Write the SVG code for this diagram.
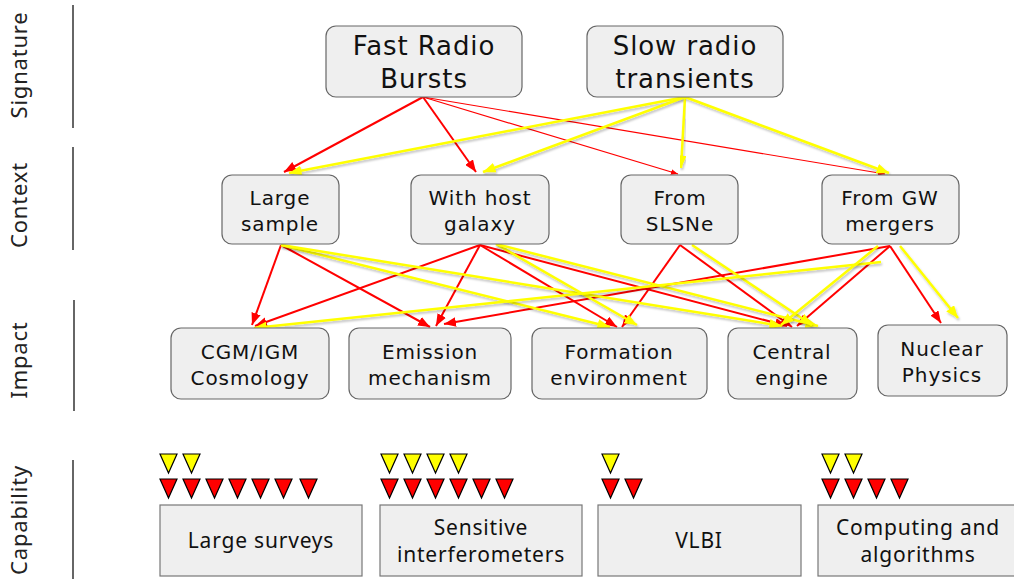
<svg xmlns="http://www.w3.org/2000/svg" xmlns:xlink="http://www.w3.org/1999/xlink" width="1014" height="579" viewBox="0 0 1014 579">
<style>
.node rect{fill:#efefef;stroke:#666;stroke-width:1.2}
.cap rect{fill:#efefef;stroke:#777;stroke-width:1.2}
.t{font-family:"DejaVu Sans","Open Sans",sans-serif;fill:#111;text-anchor:middle}
.big{font-size:26px;letter-spacing:0.9px}
.mid{font-size:20px;letter-spacing:0.9px}
.capt{font-family:"Noto Sans","Open Sans",sans-serif;font-size:21px;letter-spacing:0.8px;fill:#111;text-anchor:middle}
.lab{font-family:"Noto Sans","Open Sans",sans-serif;font-size:22px;letter-spacing:0.8px;fill:#222;text-anchor:middle}
.div{stroke:#666;stroke-width:2}
.r{stroke:#ff0000;stroke-width:2;fill:none;marker-end:url(#ar)}
.rt{stroke:#ff0000;stroke-width:1.2;fill:none;marker-end:url(#ar)}
.y{stroke:#ffff00;stroke-width:2.5;fill:none;marker-end:url(#ay);filter:url(#sh)}
.ty{fill:#ffff00;stroke:#000;stroke-width:1.2}
.tr{fill:#ff0000;stroke:#000;stroke-width:1.2}
</style>
<defs>
<marker id="ar" viewBox="0 0 10 8" refX="10" refY="4" markerWidth="6" markerHeight="4.8" orient="auto" markerUnits="strokeWidth"><path d="M0,0L10,4L0,8z" fill="#ff0000"/></marker>
<marker id="ay" viewBox="0 0 10 8" refX="10" refY="4" markerWidth="5" markerHeight="4" orient="auto" markerUnits="strokeWidth"><path d="M0,0L10,4L0,8z" fill="#ffff00"/></marker>
<filter id="sh" x="-10%" y="-10%" width="120%" height="140%"><feDropShadow dx="1" dy="2" stdDeviation="1" flood-color="#000" flood-opacity="0.25"/></filter>
<path id="tri" d="M0,0H17L8.5,19Z"/>
</defs>

<g id="axis-labels">
<text class="lab" transform="translate(27,65) rotate(-90)">Signature</text>
<line class="div" x1="73" y1="5" x2="73" y2="128"/>
<text class="lab" transform="translate(27,205) rotate(-90)">Context</text>
<line class="div" x1="73" y1="147" x2="73" y2="250"/>
<text class="lab" transform="translate(27,360) rotate(-90)">Impact</text>
<line class="div" x1="74" y1="300" x2="74" y2="411"/>
<text class="lab" transform="translate(27,520) rotate(-90)">Capability</text>
<line class="div" x1="73" y1="460" x2="73" y2="579"/>
</g>

<g id="connectors">
<!-- signature -> context -->
<line class="r" x1="423" y1="97" x2="284" y2="172"/>
<line class="r" x1="423" y1="97" x2="476" y2="172"/>
<line class="rt" x1="423" y1="97" x2="678" y2="174"/>
<line class="rt" x1="423" y1="97" x2="885" y2="174"/>
<line class="y" x1="685" y1="97" x2="289" y2="173"/>
<line class="y" x1="685" y1="97" x2="483" y2="172"/>
<line class="y" x1="685" y1="97" x2="681" y2="168"/>
<line class="y" x1="685" y1="97" x2="889" y2="173"/>
<!-- context -> impact : red -->
<line class="r" x1="281" y1="245" x2="252" y2="325"/>
<line class="r" x1="281" y1="245" x2="430" y2="327"/>
<line class="r" x1="480" y1="245" x2="255" y2="326"/>
<line class="r" x1="480" y1="245" x2="436" y2="326"/>
<line class="r" x1="480" y1="245" x2="617" y2="327"/>
<line class="r" x1="480" y1="245" x2="787" y2="326"/>
<line class="r" x1="680" y1="245" x2="622" y2="327"/>
<line class="r" x1="680" y1="245" x2="792" y2="327"/>
<line class="r" x1="890" y1="246" x2="444" y2="324"/>
<line class="r" x1="890" y1="246" x2="797" y2="326"/>
<line class="r" x1="890" y1="246" x2="941" y2="323"/>
<!-- context -> impact : yellow -->
<line class="y" x1="281" y1="245" x2="610" y2="327"/>
<line class="y" x1="281" y1="245" x2="782" y2="326"/>
<line class="y" x1="496" y1="244" x2="637" y2="325"/>
<line class="y" x1="496" y1="244" x2="818" y2="326"/>
<line class="y" x1="692" y1="245" x2="812" y2="325"/>
<line class="y" x1="881" y1="262" x2="254" y2="328"/>
<line class="y" x1="878" y1="246" x2="781" y2="325"/>
<line class="y" x1="900" y1="246" x2="958" y2="318"/>
</g>

<g id="n-frb" class="node"><rect x="326" y="26" width="196" height="71" rx="10"/><text class="t big" x="424" y="55">Fast Radio</text><text class="t big" x="424" y="88">Bursts</text></g>
<g id="n-slow" class="node"><rect x="587" y="26" width="196" height="71" rx="10"/><text class="t big" x="685" y="55">Slow radio</text><text class="t big" x="685" y="88">transients</text></g>

<g id="n-large" class="node"><rect x="222" y="175" width="117" height="69" rx="10"/><text class="t mid" x="280" y="205">Large</text><text class="t mid" x="280" y="231">sample</text></g>
<g id="n-host" class="node"><rect x="411" y="175" width="138" height="69" rx="10"/><text class="t mid" x="480" y="205">With host</text><text class="t mid" x="480" y="231">galaxy</text></g>
<g id="n-slsne" class="node"><rect x="621" y="175" width="117" height="69" rx="10"/><text class="t mid" x="680" y="205">From</text><text class="t mid" x="680" y="231">SLSNe</text></g>
<g id="n-gw" class="node"><rect x="822" y="175" width="137" height="69" rx="10"/><text class="t mid" x="890" y="205">From GW</text><text class="t mid" x="890" y="231">mergers</text></g>

<g id="n-cgm" class="node"><rect x="171" y="328" width="158" height="71" rx="10"/><text class="t mid" x="250" y="359">CGM/IGM</text><text class="t mid" x="250" y="385">Cosmology</text></g>
<g id="n-emission" class="node"><rect x="349" y="328" width="162" height="71" rx="10"/><text class="t mid" x="430" y="359">Emission</text><text class="t mid" x="430" y="385">mechanism</text></g>
<g id="n-formation" class="node"><rect x="532" y="328" width="175" height="71" rx="10"/><text class="t mid" x="619" y="359">Formation</text><text class="t mid" x="619" y="385">environment</text></g>
<g id="n-central" class="node"><rect x="728" y="328" width="129" height="71" rx="10"/><text class="t mid" x="792" y="359">Central</text><text class="t mid" x="792" y="385">engine</text></g>
<g id="n-nuclear" class="node"><rect x="878" y="325" width="129" height="71" rx="10"/><text class="t mid" x="942" y="356">Nuclear</text><text class="t mid" x="942" y="382">Physics</text></g>

<g id="c-surveys" class="cap"><rect x="160" y="505" width="202" height="71"/><text class="capt" x="261" y="548">Large surveys</text>
<use xlink:href="#tri" class="ty" x="160" y="454"/><use xlink:href="#tri" class="ty" x="183" y="454"/>
<use xlink:href="#tri" class="tr" x="160" y="479"/><use xlink:href="#tri" class="tr" x="183" y="479"/><use xlink:href="#tri" class="tr" x="206" y="479"/><use xlink:href="#tri" class="tr" x="229" y="479"/><use xlink:href="#tri" class="tr" x="252" y="479"/><use xlink:href="#tri" class="tr" x="275" y="479"/><use xlink:href="#tri" class="tr" x="300" y="479"/>
</g>
<g id="c-interf" class="cap"><rect x="380" y="505" width="202" height="71"/><text class="capt" x="481" y="535">Sensitive</text><text class="capt" x="481" y="562">interferometers</text>
<use xlink:href="#tri" class="ty" x="381" y="454"/><use xlink:href="#tri" class="ty" x="404" y="454"/><use xlink:href="#tri" class="ty" x="427" y="454"/><use xlink:href="#tri" class="ty" x="450" y="454"/>
<use xlink:href="#tri" class="tr" x="381" y="479"/><use xlink:href="#tri" class="tr" x="404" y="479"/><use xlink:href="#tri" class="tr" x="427" y="479"/><use xlink:href="#tri" class="tr" x="450" y="479"/><use xlink:href="#tri" class="tr" x="473" y="479"/><use xlink:href="#tri" class="tr" x="496" y="479"/>
</g>
<g id="c-vlbi" class="cap"><rect x="598" y="505" width="203" height="71"/><text class="capt" x="699" y="548">VLBI</text>
<use xlink:href="#tri" class="ty" x="602" y="454"/>
<use xlink:href="#tri" class="tr" x="602" y="479"/><use xlink:href="#tri" class="tr" x="625" y="479"/>
</g>
<g id="c-computing" class="cap"><rect x="818" y="505" width="200" height="71"/><text class="capt" x="918" y="535">Computing and</text><text class="capt" x="918" y="562">algorithms</text>
<use xlink:href="#tri" class="ty" x="822" y="454"/><use xlink:href="#tri" class="ty" x="845" y="454"/>
<use xlink:href="#tri" class="tr" x="822" y="479"/><use xlink:href="#tri" class="tr" x="845" y="479"/><use xlink:href="#tri" class="tr" x="868" y="479"/><use xlink:href="#tri" class="tr" x="891" y="479"/>
</g>
</svg>
